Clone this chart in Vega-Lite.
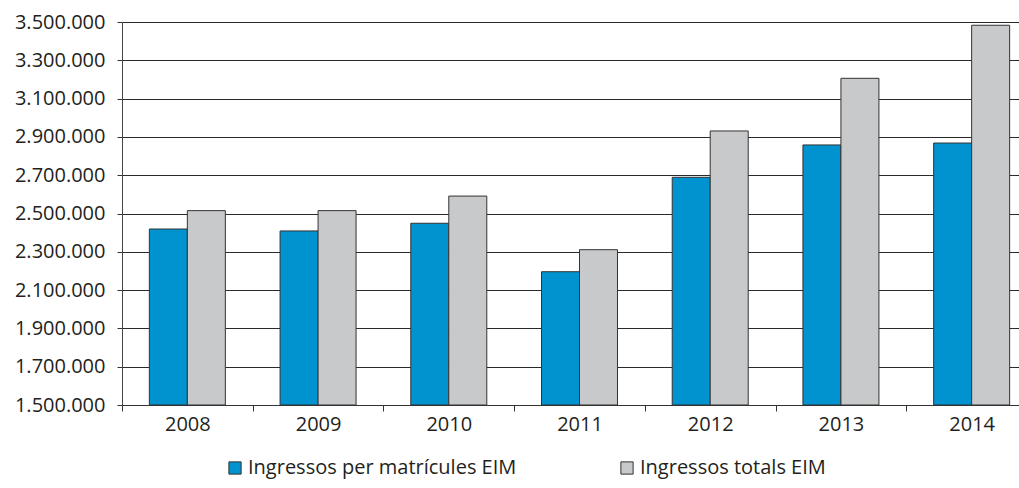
{
  "$schema": "https://vega.github.io/schema/vega-lite/v6.json",
  "width": 897,
  "height": 383,
  "autosize": {"type": "none"},
  "padding": {"left": 122, "top": 22, "right": 0, "bottom": 83},
  "background": "white",
  "data": {
    "values": [
      {"any": "2008", "serie": "Ingressos per matrícules EIM", "valor": 2419000},
      {"any": "2008", "serie": "Ingressos totals EIM", "valor": 2515000},
      {"any": "2009", "serie": "Ingressos per matrícules EIM", "valor": 2409000},
      {"any": "2009", "serie": "Ingressos totals EIM", "valor": 2515000},
      {"any": "2010", "serie": "Ingressos per matrícules EIM", "valor": 2449000},
      {"any": "2010", "serie": "Ingressos totals EIM", "valor": 2591000},
      {"any": "2011", "serie": "Ingressos per matrícules EIM", "valor": 2196000},
      {"any": "2011", "serie": "Ingressos totals EIM", "valor": 2311000},
      {"any": "2012", "serie": "Ingressos per matrícules EIM", "valor": 2689000},
      {"any": "2012", "serie": "Ingressos totals EIM", "valor": 2931000},
      {"any": "2013", "serie": "Ingressos per matrícules EIM", "valor": 2858000},
      {"any": "2013", "serie": "Ingressos totals EIM", "valor": 3206000},
      {"any": "2014", "serie": "Ingressos per matrícules EIM", "valor": 2868000},
      {"any": "2014", "serie": "Ingressos totals EIM", "valor": 3483000}
    ]
  },
  "mark": {"type": "bar", "stroke": "#333333", "strokeWidth": 1},
  "encoding": {
    "x": {
      "field": "any",
      "type": "nominal",
      "scale": {"range": [0, 915], "paddingInner": 0, "paddingOuter": 0},
      "axis": {
        "title": null,
        "labelAngle": 0,
        "labelFont": "Open Sans",
        "labelFontSize": 20,
        "labelColor": "#231f20",
        "labelPadding": 3,
        "tickBand": "extent",
        "tickSize": 6,
        "tickColor": "#333333",
        "domainColor": "#333333",
        "grid": false
      }
    },
    "xOffset": {
      "field": "serie",
      "type": "nominal",
      "sort": ["Ingressos per matrícules EIM", "Ingressos totals EIM"],
      "scale": {"paddingInner": 0, "paddingOuter": 0.72}
    },
    "y": {
      "field": "valor",
      "type": "quantitative",
      "scale": {"domain": [1500000, 3500000], "zero": false, "nice": false},
      "axis": {
        "title": null,
        "values": [1500000, 1700000, 1900000, 2100000, 2300000, 2500000, 2700000, 2900000, 3100000, 3300000, 3500000],
        "labelExpr": "replace(format(datum.value, ',.0f'), /,/g, '.')",
        "labelFont": "Open Sans",
        "labelFontSize": 20,
        "labelColor": "#231f20",
        "labelPadding": 12,
        "tickSize": 5,
        "tickColor": "#333333",
        "domainColor": "#444444",
        "grid": true,
        "gridColor": "#2a2a2a",
        "gridWidth": 1,
        "gridOpacity": 1
      }
    },
    "y2": {"datum": 1500000},
    "color": {
      "field": "serie",
      "type": "nominal",
      "sort": ["Ingressos per matrícules EIM", "Ingressos totals EIM"],
      "scale": {"range": ["#0093d0", "#c8c9cb"]},
      "legend": {
        "title": null,
        "orient": "none",
        "legendX": 103,
        "legendY": 436,
        "direction": "horizontal",
        "symbolType": "square",
        "symbolSize": 150,
        "symbolStrokeColor": "#333333",
        "symbolStrokeWidth": 1,
        "labelFont": "Open Sans",
        "labelFontSize": 20,
        "labelColor": "#231f20",
        "labelOffset": 3,
        "columnPadding": 100,
        "labelLimit": 400
      }
    }
  },
  "config": {"view": {"stroke": null}}
}
